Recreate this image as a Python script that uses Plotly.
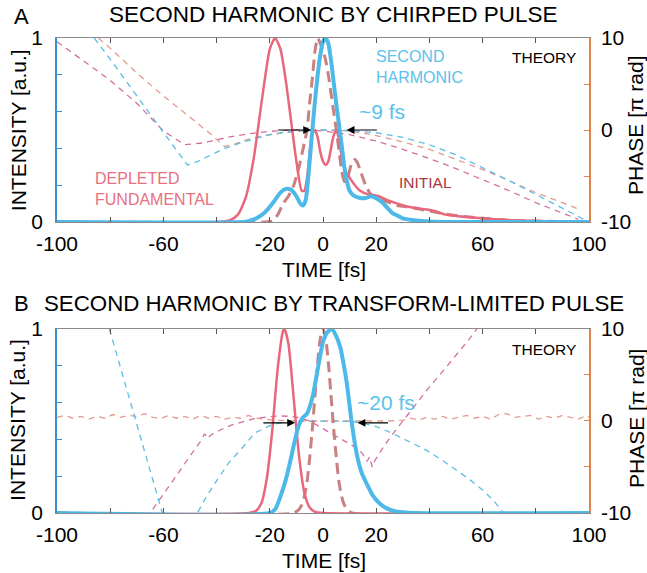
import plotly.graph_objects as go

# ---------------- Panel A (chirped pulse) ----------------
tA_dep = [-100,-40,-35,-32,-29,-26,-23,-20,-18,-16,-14,-12,-10,-8,-7,-6,-5,-4,-3,-2,-1,0,1,2,3,4,5,6,7,8,9,10,12,14,17,21,24,28,33,38,42,46,52,60,70,80,90,100]
iA_dep = [0,0,0.01,0.04,0.135,0.35,0.66,0.94,1.0,0.94,0.77,0.55,0.33,0.17,0.17,0.24,0.38,0.48,0.5,0.46,0.38,0.33,0.31,0.33,0.4,0.47,0.5,0.45,0.36,0.3,0.26,0.24,0.2,0.17,0.15,0.14,0.12,0.1,0.08,0.07,0.06,0.04,0.03,0.02,0.01,0.006,0.003,0]

tA_sh = [-100,-30,-28,-25,-22,-19,-16,-14,-12,-10,-8.5,-7.5,-6.5,-5.5,-4.5,-4,-3,-2,-1,0,1,2,3,4,5,6,7,8,9,10,11,12,14,16,18,20,22,24,26,28,30,35,40,50,100]
iA_sh = [0,0,0.005,0.02,0.05,0.1,0.16,0.18,0.175,0.14,0.1,0.09,0.12,0.25,0.42,0.5,0.66,0.8,0.91,0.98,1.0,0.97,0.88,0.76,0.64,0.53,0.42,0.3,0.22,0.17,0.15,0.14,0.13,0.13,0.14,0.13,0.11,0.08,0.05,0.035,0.02,0.008,0.003,0,0]

tA_init = [-100,-22,-19,-17,-15,-13,-11,-9,-7,-6,-5,-4,-3,-2,-1,0,1,2,3,4,5,6,7,8,9,10,11,12,13,14,16,18,20,22,24,26,28,30,33,36,40,45,50,60,70,80,100]
iA_init = [0,0,0.005,0.04,0.1,0.14,0.2,0.3,0.43,0.5,0.65,0.78,0.93,1.0,0.97,0.93,0.88,0.8,0.7,0.6,0.5,0.39,0.28,0.22,0.23,0.28,0.33,0.34,0.32,0.28,0.2,0.15,0.14,0.12,0.11,0.1,0.09,0.085,0.08,0.07,0.06,0.045,0.035,0.02,0.01,0.005,0]

tA_ph_blue = [-86,-80,-70,-60,-51,-47,-42,-37,-30,-25,-20,-15,-10,-5,0,5,10,20,30,40,50,60,70,80,90,100]
pA_ph_blue = [10,7.7,3.7,-0.3,-3.8,-3.4,-2.7,-2.0,-1.3,-0.9,-0.5,-0.25,-0.1,0,0,0,-0.05,-0.3,-0.8,-1.6,-2.7,-4.1,-5.5,-7.0,-8.5,-10]

tA_ph_sal = [-84.4,-80,-70,-60,-50,-42,-37,-33,-28,-22,-15,-8,0,10,20,30,40,50,60,70,80,90,97]
pA_ph_sal = [10,8.9,6.2,3.7,1.4,-0.5,-1.8,-1.5,-1.0,-0.6,-0.3,-0.1,0,-0.1,-0.6,-1.3,-2.1,-3.2,-4.3,-5.5,-6.8,-7.9,-8.7]

tA_ph_mag = [-100,-90,-80,-70,-60,-52,-45,-36,-28,-20,-12,-5,0,5,10,20,30,40,50,60,70,80,90,96]
pA_ph_mag = [9.6,7.5,5.4,2.9,-0.1,-1.6,-1.4,-0.8,-0.4,-0.15,0,0,-0.1,-0.3,-0.5,-1.2,-2.1,-3.1,-4.2,-5.4,-6.6,-7.9,-9.0,-9.7]

# ---------------- Panel B (transform-limited pulse) ----------------
tB_dep = [-100,-28,-25,-23,-21,-19,-17,-15,-14.5,-13,-11,-9,-7,-5,-3,0,100]
iB_dep = [0,0,0.014,0.06,0.2,0.46,0.79,0.99,1.0,0.92,0.62,0.31,0.11,0.03,0.006,0,0]

tB_sh = [-100,-20,-18,-16,-14,-12,-10.5,-9,-7.5,-6,-4.5,-3.5,-2,-1,0,1.5,3.3,5,6.5,8,9,10.8,12.7,14.5,16.4,18.5,21.4,24,27,30,35,100]
iB_sh = [0,0,0.02,0.09,0.18,0.3,0.4,0.48,0.52,0.54,0.6,0.66,0.78,0.86,0.93,0.98,1.0,0.96,0.9,0.79,0.7,0.49,0.32,0.22,0.16,0.1,0.05,0.025,0.01,0.004,0,0]

tB_init = [-100,-11,-9,-8,-7,-6,-5,-4,-3,-2,-1,0,1,2,3,4,5,6,7,8,9,11,100]
iB_init = [0,0,0.02,0.044,0.09,0.17,0.3,0.46,0.64,0.82,0.95,1.0,0.95,0.82,0.64,0.46,0.3,0.17,0.09,0.044,0.02,0,0]

tB_ph_blue = [-80.3,-60.4,None,-47,-44,-40,-35.6,-30,-25.6,-20,-17,-12,-5,0,5,10,14,20,25,30,35,39,45,50,55.3,60,64,67.8]
pB_ph_blue = [10,-10,None,-9.9,-8.3,-6.5,-4.6,-2.8,-1.3,-0.5,-0.25,-0.05,0,0,0,-0.05,-0.15,-0.6,-1.2,-1.9,-2.6,-3.2,-4.3,-5.3,-6.4,-7.5,-8.6,-10]

tB_ph_mag = [-64,-60,-55,-50,-46,-44.5,-43.5,-42,-38,-34,-30,-26,-21,-16,-12,-8,-5,-2,2,6,10,13,15,16.5,17.5,18.5,19.5,21,23,26,30,35,40,45,50,55,57.8]
pB_ph_mag = [-9.6,-8.0,-5.9,-3.8,-2.2,-1.4,-1.9,-1.5,-0.9,-0.4,-0.05,0.25,0.45,0.55,0.5,0.3,0.0,-0.5,-1.1,-1.8,-2.5,-3.0,-3.6,-4.4,-3.9,-5.0,-4.3,-3.6,-2.7,-1.5,0.0,1.9,3.7,5.4,7.1,8.9,10]

tB_ph_sal = [-100,-97,-94,-91,-88,-85,-82,-79,-76,-73,-70,-67,-64,-61,-58,-55,-52,-49,-46,-43,-40,-37,-34,-31,-28,-25,-22,-19,-15,-10,-5,0,5,10,15,20,25,30,33,36,39,42,45,48,51,54,57,60,63,66,69,72,75,78,81,84,87,90,93,96,99,100]
pB_ph_sal = [0.4,0.6,0.3,0.5,0.2,0.5,0.3,0.7,0.4,0.6,0.5,0.8,0.4,0.3,0.6,0.3,0.5,0.2,0.6,0.3,0.5,0.2,0.4,0.3,0.6,0.3,0.2,0.1,0.05,0,0,0,0,0,0,0,0,0.1,0.3,0.1,0.4,0.2,0.5,0.2,0.4,0.6,0.3,0.5,0.2,0.7,0.8,0.4,0.5,0.6,0.2,0.5,0.3,0.6,0.4,0.2,0.6,0.4]

# ---------------- ticks ----------------
x_tickvals = [-100,-80,-60,-40,-20,0,20,40,60,80,100]
x_ticktext = ["-100","","-60","","-20","0","20","","60","","100"]
int_tickvals = [0,0.2,0.4,0.6,0.8,1]
int_ticktext = ["0","","","","","1"]
ph_tickvals = [-10,-5,0,5,10]
ph_ticktext = ["-10","","0","","10"]

C_SH = "#4cb9e8"
C_DEP = "#e8677b"
C_INIT = "#c98080"
C_PB = "#5bbde6"
C_PM = "#d36fa0"
C_PS = "#e39a8e"
FONT = "Liberation Sans, Arial, Helvetica, sans-serif"

fig = go.Figure()

def add(x, y, xa, ya, color, width, dash=None, spline=False):
    line = dict(color=color, width=width)
    if dash:
        line["dash"] = dash
    if spline:
        line["shape"] = "spline"
        line["smoothing"] = 0.6
    fig.add_trace(go.Scatter(x=x, y=y, xaxis=xa, yaxis=ya, mode="lines", line=line,
                             hoverinfo="skip", showlegend=False, connectgaps=False,
                             cliponaxis=False if ya in ("y2", "y4") else True))

PH_DASH = "6px,5px"
# panel A phases
add(tA_ph_mag, pA_ph_mag, "x", "y", C_PM, 1.3, PH_DASH)
add(tA_ph_sal, pA_ph_sal, "x", "y", C_PS, 1.3, PH_DASH)
add(tA_ph_blue, pA_ph_blue, "x", "y", C_PB, 1.3, PH_DASH)
# panel A intensities
add(tA_init, iA_init, "x", "y2", C_INIT, 3, "11px,6px", True)
add(tA_dep, iA_dep, "x", "y2", C_DEP, 2.5, None, True)
add(tA_sh, iA_sh, "x", "y2", C_SH, 4, None, True)
# panel B phases
add(tB_ph_sal, pB_ph_sal, "x2", "y3", C_PS, 1.3, PH_DASH)
add(tB_ph_mag, pB_ph_mag, "x2", "y3", C_PM, 1.3, PH_DASH)
add(tB_ph_blue, pB_ph_blue, "x2", "y3", C_PB, 1.3, PH_DASH)
# panel B intensities
add(tB_init, iB_init, "x2", "y4", C_INIT, 3, "11px,6px", True)
add(tB_dep, iB_dep, "x2", "y4", C_DEP, 2.5, None, True)
add(tB_sh, iB_sh, "x2", "y4", C_SH, 4, None, True)

tickfont = dict(family=FONT, size=21, color="black")

def xax(anchor):
    return dict(domain=[0, 1], anchor=anchor, range=[-100, 100], tickvals=x_tickvals, ticktext=x_ticktext,
                ticks="inside", ticklen=5, tickcolor="#555555", showline=True, linecolor="#8a8a8a",
                linewidth=1, mirror="ticks", showgrid=False, zeroline=False, tickfont=tickfont,
                ticklabelstandoff=3)

def phax(dom, anchor):
    return dict(domain=dom, anchor=anchor, side="right", range=[-10, 10], tickvals=ph_tickvals,
                ticktext=ph_ticktext, ticks="inside", ticklen=5, tickcolor="#e0824c", showline=True,
                linecolor="#e0824c", linewidth=1.5, showgrid=False, zeroline=False, tickfont=tickfont,
                ticklabelstandoff=6)

def intax(over, anchor):
    return dict(overlaying=over, anchor=anchor, side="left", range=[0, 1], tickvals=int_tickvals,
                ticktext=int_ticktext, ticks="inside", ticklen=5, tickcolor="#3b8fcc", showline=True,
                linecolor="#3b8fcc", linewidth=1.5, showgrid=False, zeroline=False, tickfont=tickfont,
                ticklabelstandoff=8)

dA = [0.6126, 1.0]
dB = [0.0, 0.3874]

ann = []
def txt(text, x, y, xref, yref, size, color="black", xanchor="left", yanchor="middle", angle=0, align="left"):
    ann.append(dict(text=text, x=x, y=y, xref=xref, yref=yref, showarrow=False, xanchor=xanchor,
                    yanchor=yanchor, textangle=angle, align=align,
                    font=dict(family=FONT, size=size, color=color)))

def arrow(x_tip, x_tail, y, xref, yref):
    ann.append(dict(text="", x=x_tip, y=y, ax=x_tail, ay=y, xref=xref, yref=yref, axref=xref, ayref=yref,
                    showarrow=True, arrowhead=2, arrowsize=1.3, arrowwidth=1.2, arrowcolor="black", standoff=0))

# titles
txt("A", -0.0846, 1.045, "paper", "paper", 22)
txt("SECOND HARMONIC BY CHIRPED PULSE", 0.519, 1.049, "paper", "paper", 22.5, xanchor="center")
txt("B", -0.0846, 0.441, "paper", "paper", 22)
txt("SECOND HARMONIC BY TRANSFORM-LIMITED PULSE", 0.5207, 0.441, "paper", "paper", 22.3, xanchor="center")
# axis titles
for yc in (0.806, 0.196):
    txt("INTENSITY [a.u.]", -0.0733, yc, "paper", "paper", 21, xanchor="center", angle=-90)
for yc in (0.817, 0.2):
    txt("PHASE [π rad]", 1.0883, yc, "paper", "paper", 21, xanchor="center", angle=-90)
txt("TIME [fs]", 0.502, 0.5116, "paper", "paper", 21, xanchor="center")
txt("TIME [fs]", 0.502, -0.099, "paper", "paper", 21, xanchor="center")
# panel A labels
txt("DEPLETED<br>FUNDAMENTAL", -86.5, 0.177, "x", "y2", 16, "#e8717f")
txt("SECOND<br>HARMONIC", 19.2, 0.84, "x", "y2", 16, "#5bc2ec")
txt("THEORY", 70.3, 0.894, "x", "y2", 15.5)
txt("~9 fs", 12.8, 0.603, "x", "y2", 21, "#5bc2ec")
txt("INITIAL", 27.8, 0.217, "x", "y2", 15.5, "#a8383f")
arrow(-4.5, -17.4, 0.5, "x", "y2")
arrow(8.9, 20.8, 0.5, "x", "y2")
# panel B labels
txt("THEORY", 70.3, 0.886, "x2", "y4", 15.5)
txt("~20 fs", 12.0, 0.603, "x2", "y4", 21, "#5bc2ec")
arrow(-10.5, -23, 0.49, "x2", "y4")
arrow(13, 25, 0.49, "x2", "y4")

fig.update_layout(
    width=647, height=573, margin=dict(l=57, r=58, t=38, b=60),
    paper_bgcolor="white", plot_bgcolor="white", template="none",
    font=dict(family=FONT, size=21, color="black"),
    xaxis=xax("y"), yaxis=phax(dA, "x"), yaxis2=intax("y", "x"),
    xaxis2=xax("y3"), yaxis3=phax(dB, "x2"), yaxis4=intax("y3", "x2"),
    annotations=ann, showlegend=False,
)

# remove the browser's default 8px body margin so the figure fills the window exactly
fig.write_html("out.html", config={"displayModeBar": False},
               post_script="document.documentElement.style.margin='0';document.body.style.margin='0';document.body.style.overflow='hidden';")
